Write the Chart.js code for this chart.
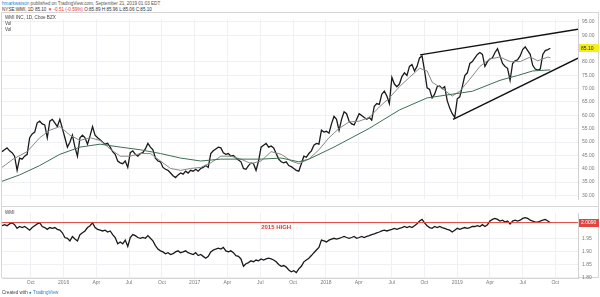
<!DOCTYPE html>
<html>
<head>
<meta charset="utf-8">
<script src="https://cdn.jsdelivr.net/npm/chart.js@4/dist/chart.umd.min.js"></script>
<style>
  body { margin: 0; background: #fff; font-family: "Liberation Sans", Arial, sans-serif; }
  #wrap { position: relative; width: 600px; height: 297px; overflow: hidden; }
  .txt { position: absolute; white-space: nowrap; font-size: 4.6px; color: #555; line-height: 5px; }
  #frame { position: absolute; left: 1px; top: 12px; width: 598px; height: 266px; border: 1px solid #d6d6d6; box-sizing: border-box; }
  #sep { position: absolute; left: 1px; top: 206px; width: 598px; height: 1px; background: #d6d6d6; }
  #top { position: absolute; left: 0; top: 12px; }
  #bot { position: absolute; left: 0; top: 206px; }
</style>
</head>
<body>
<div id="wrap">
  <div class="txt" style="left:2px;top:1px"><span style="color:#2a7fd4">hmarkwatson</span> published on TradingView.com, September 21, 2019 01:03 EDT</div>
  <div class="txt" style="left:2px;top:7px;color:#333">NYSE:WMI, 1D 85.10 <span style="color:#d33">&#9660; -0.51 (-0.59%)</span> O:85.89 H:85.96 L:85.06 C:85.10</div>
  <div id="frame"></div>
  <canvas id="top" width="600" height="194"></canvas>
  <div id="sep"></div>
  <canvas id="bot" width="600" height="82"></canvas>
  <div class="txt" style="left:5px;top:15px;color:#444">WMI INC, 1D, Cboe BZX</div>
  <div class="txt" style="left:5px;top:21px;color:#444">Vol</div>
  <div class="txt" style="left:5px;top:27px;color:#444">Vol</div>
  <div class="txt" style="left:5px;top:210px;color:#444">WMI</div>
  <div class="txt" style="left:2px;top:290px;color:#444">Created with <span style="color:#2a7fd4">&#9679; TradingView</span></div>
</div>
<script>
// weekly closes, week 0 = mid July 2015
const priceClose = [
  46.4,47.1,47.8,46.7,46.0,44.7,39.4,44.0,43.6,44.7,
  45.4,51.6,53.0,53.7,57.2,57.8,56.8,56.4,51.6,57.8,
  58.5,57.2,55.8,58.5,55.1,51.6,48.1,49.9,52.6,48.1,
  44.7,51.6,52.6,51.6,49.2,52.3,55.8,52.6,51.6,50.9,
  49.9,49.2,49.5,48.1,46.4,45.4,42.9,42.2,41.9,42.9,
  40.5,46.0,46.7,45.4,44.7,45.7,46.0,47.4,49.5,48.1,
  47.1,44.0,42.9,42.6,40.5,39.8,39.4,38.4,37.4,36.7,
  37.7,38.4,38.0,39.1,38.4,39.4,39.1,39.8,39.1,40.1,
  40.5,41.2,40.5,45.7,46.7,47.4,48.1,47.8,46.0,45.4,
  45.7,44.7,45.0,44.0,43.3,42.6,40.1,39.8,41.2,42.2,
  41.9,39.4,42.9,48.1,48.8,49.5,48.1,48.5,47.8,45.7,
  43.6,42.6,42.2,42.6,41.2,40.8,40.1,39.4,39.1,41.9,
  44.7,44.3,45.7,46.7,48.8,49.5,49.2,54.4,53.7,54.0,
  53.3,56.8,59.6,58.5,54.4,58.5,61.3,60.6,57.8,56.8,
  56.4,58.5,60.6,59.9,59.2,58.5,59.2,58.2,63.4,64.4,
  64.1,67.9,69.0,67.2,64.4,74.2,71.7,70.7,71.7,74.5,
  75.9,74.9,78.3,79.0,76.6,78.3,81.5,82.2,76.6,70.3,
  69.7,66.5,67.9,70.7,71.0,70.0,70.7,65.5,62.7,60.6,
  59.2,66.2,66.9,70.7,74.9,75.9,79.4,80.1,81.5,82.8,
  83.5,82.8,78.3,80.1,81.1,81.5,83.5,84.9,82.2,79.4,
  78.3,77.6,73.1,79.4,80.4,80.8,82.2,84.6,85.6,84.2,
  82.8,78.7,77.3,76.9,77.3,82.8,84.2,84.6,85.1
];

// moving averages (week, value)
const maFastWeeks = [0,4.4,10,15,19,23,27,31,35,39,43,47,51,55,59,63,67,71,75,79,83,87,91,95,99,103,107,111,115,118,122,126,130,134,138,142,146,150,154,158,162,166,169,171,175,179,182,186,190,194,198,202,206,210,213,217,218];
const maFastValues = [40.5,43.6,46.4,51.6,54.4,55.8,52.6,50.6,51.6,50.6,47.4,44.7,44.7,45.7,45.7,42.9,40.1,39.4,40.1,40.5,42.2,44.7,44.7,43.6,41.9,42.9,46.4,45.4,42.9,41.9,43.6,47.1,51.6,55.1,57.5,57.8,59.2,63.1,66.5,70.7,74.2,77.6,76.6,72.4,70.0,67.2,69.0,73.5,78.3,81.1,81.8,80.1,80.1,81.8,80.4,81.8,81.5];
const maSlowWeeks = [0,7,15,23,31,39,47,55,63,71,79,87,95,103,111,118,122,132,146,158,169,179,187,198,205,211,218];
const maSlowValues = [35.3,37.7,41.2,45.4,48.1,49.2,48.1,47.1,45.7,44.0,42.9,43.6,43.6,43.6,44.0,42.6,43.6,48.1,55.1,62.0,66.5,67.9,69.0,73.1,74.9,76.6,77.0];

// wedge trendlines
const wedgeWeeks = [166.2, 229];
const wedgeUpper = [82.6, 92.2];
const wedgeLowerWeeks = [179.3, 229];
const wedgeLower = [58.5, 81.4];

// ratio pane
const ratioClose = [
  1.998,2.002,1.998,2.005,2.009,2.002,1.988,1.995,1.991,1.995,
  1.988,1.981,1.991,1.998,2.005,2.009,1.995,1.991,1.984,1.991,
  1.988,1.991,1.984,1.981,1.971,1.953,1.950,1.940,1.957,1.947,
  1.940,1.964,1.971,1.978,1.991,1.998,2.009,1.991,1.984,1.981,
  1.978,1.981,1.974,1.978,1.964,1.953,1.929,1.936,1.929,1.943,
  1.919,1.953,1.964,1.960,1.953,1.950,1.953,1.950,1.960,1.950,
  1.940,1.922,1.909,1.902,1.898,1.891,1.895,1.888,1.891,1.898,
  1.902,1.895,1.898,1.902,1.895,1.891,1.888,1.895,1.884,1.888,
  1.881,1.874,1.881,1.898,1.905,1.909,1.912,1.909,1.915,1.902,
  1.898,1.902,1.895,1.884,1.881,1.871,1.843,1.853,1.857,1.864,
  1.860,1.867,1.864,1.871,1.867,1.871,1.874,1.871,1.867,1.860,
  1.850,1.843,1.846,1.840,1.829,1.822,1.826,1.819,1.833,1.843,
  1.860,1.867,1.874,1.884,1.895,1.905,1.915,1.943,1.940,1.936,
  1.943,1.947,1.950,1.947,1.950,1.953,1.957,1.953,1.950,1.953,
  1.957,1.950,1.953,1.957,1.953,1.957,1.960,1.964,1.967,1.971,
  1.974,1.978,1.981,1.978,1.981,1.984,1.988,1.984,1.988,1.991,
  1.995,1.991,1.995,1.991,1.998,2.005,2.016,2.022,2.009,1.998,
  1.991,1.988,1.995,1.991,1.995,1.991,1.988,1.984,1.981,1.974,
  1.981,1.988,1.984,1.988,1.991,1.988,1.991,1.995,1.995,1.998,
  1.995,2.002,1.995,2.002,2.016,2.022,2.026,2.022,2.016,2.019,
  2.012,2.016,2.005,2.016,2.019,2.016,2.019,2.026,2.029,2.026,
  2.019,2.016,2.012,2.012,2.016,2.019,2.022,2.016,2.009
];
const high2015 = 2.010;

// axis ticks
const timeTickWeeks = [11.4,24.5,37.5,50.5,63.6,76.6,89.6,102.7,115.7,128.8,141.8,154.9,167.9,181,194,207,220];
const timeTickLabels = ['Oct','2016','Apr','Jul','Oct','2017','Apr','Jul','Oct','2018','Apr','Jul','Oct','2019','Apr','Jul','Oct'];
const priceTicks = [30,35,40,45,50,55,60,65,70,75,80,90,95];
const ratioTicks = [1.80,1.85,1.90,1.95];

const FONT = '"Liberation Sans", Arial, sans-serif';
const GRID = '#eef0f4';
const TICK = '#7a7a7a';
const xMax = 229;

function pts(xs, ys) { return ys.map((v, i) => ({ x: xs[i], y: v })); }
const weekIdx = priceClose.map((_, i) => i);

const badgePlugin = {
  id: 'badge',
  afterDraw(chart, args, o) {
    const { ctx, chartArea, scales } = chart;
    const y = scales.y.getPixelForValue(o.value);
    ctx.save();
    ctx.fillStyle = o.bg;
    ctx.fillRect(chartArea.right + 1, Math.round(y) - 4, 20, 8);
    ctx.fillStyle = o.fg;
    ctx.font = '5px ' + FONT;
    ctx.textBaseline = 'middle';
    ctx.fillText(o.text, chartArea.right + 3, y + 0.5);
    if (o.note) {
      ctx.fillStyle = '#d83a34';
      ctx.font = 'bold 6px ' + FONT;
      ctx.textAlign = 'center';
      ctx.fillText(o.note, scales.x.getPixelForValue(o.noteAt), y + 5);
    }
    ctx.restore();
  }
};

function xScale(showLabels) {
  return {
    type: 'linear', min: 0, max: xMax,
    afterBuildTicks: s => { s.ticks = timeTickWeeks.map(v => ({ value: v })); },
    afterFit: s => { s.height = showLabels ? 10 : 0; },
    ticks: {
      display: showLabels, autoSkip: false, maxRotation: 0, padding: 2,
      color: TICK, font: { size: 5, family: FONT },
      callback: (v, i) => timeTickLabels[i]
    },
    grid: { color: GRID, drawTicks: false },
    border: { display: showLabels, color: '#d6d6d6' }
  };
}

function yScale(min, max, ticks, digits) {
  return {
    position: 'right', min: min, max: max,
    afterBuildTicks: s => { s.ticks = ticks.map(v => ({ value: v })); },
    afterFit: s => { s.width = 22; },
    ticks: {
      padding: 4, color: TICK, font: { size: 5, family: FONT },
      callback: v => v.toFixed(digits)
    },
    grid: { color: GRID, drawTicks: false },
    border: { color: '#d0d0d0' }
  };
}

const line = (data, color, width) => ({
  data: data, borderColor: color, borderWidth: width,
  pointRadius: 0, tension: 0, fill: false
});

new Chart(document.getElementById('top'), {
  type: 'line',
  data: {
    datasets: [
      line(pts(maSlowWeeks, maSlowValues), '#3f6e52', 1),
      line(pts(maFastWeeks, maFastValues), '#858a85', 1),
      line(pts(weekIdx, priceClose), '#1a1a1a', 1.3),
      line(pts(wedgeWeeks, wedgeUpper), '#111', 1.4),
      line(pts(wedgeLowerWeeks, wedgeLower), '#111', 1.4)
    ]
  },
  options: {
    responsive: false, animation: false,
    layout: { padding: { left: 2, right: 0, top: 0, bottom: 0 } },
    plugins: {
      legend: { display: false }, tooltip: { enabled: false },
      badge: { value: priceClose[priceClose.length - 1], text: priceClose[priceClose.length - 1].toFixed(2), bg: '#f4ef1c', fg: '#222' }
    },
    scales: { x: xScale(false), y: yScale(28.68, 96.04, priceTicks, 2) }
  },
  plugins: [badgePlugin]
});

new Chart(document.getElementById('bot'), {
  type: 'line',
  data: {
    datasets: [
      line(pts([0, xMax], [high2015, high2015]), '#e0463f', 1),
      line(pts(weekIdx, ratioClose), '#1a1a1a', 1.3)
    ]
  },
  options: {
    responsive: false, animation: false,
    layout: { padding: { left: 2, right: 0, top: 0, bottom: 0 } },
    plugins: {
      legend: { display: false }, tooltip: { enabled: false },
      badge: { value: high2015, text: ratioClose[ratioClose.length - 1].toFixed(4), bg: '#e0463f', fg: '#fff', note: '2015 HIGH', noteAt: 109 }
    },
    scales: { x: xScale(true), y: yScale(1.7983, 2.0466, ratioTicks, 2) }
  },
  plugins: [badgePlugin]
});
</script>
</body>
</html>
